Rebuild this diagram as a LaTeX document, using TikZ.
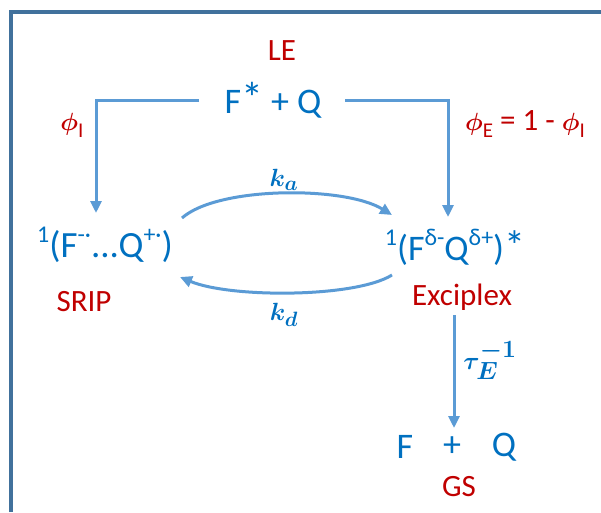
\documentclass[tikz,border=0pt]{standalone}
\usepackage{fontspec}
\setmainfont{Carlito}
\usetikzlibrary{arrows.meta}
\definecolor{frameblue}{HTML}{41719C}
\definecolor{lineblue}{HTML}{5B9BD5}
\definecolor{txtblue}{HTML}{0070C0}
\definecolor{txtred}{HTML}{C00000}
\newcommand{\chsup}[1]{\raisebox{0.42em}{\fontsize{24}{24}\selectfont #1}}
\newcommand{\lsub}[1]{\raisebox{-0.22em}{\fontsize{21}{21}\selectfont #1}}
\begin{document}
\begin{tikzpicture}[x=1pt,y=-1pt,
  chem/.style={text=txtblue, font=\fontsize{36}{42}\selectfont, inner sep=0pt},
  lab/.style={text=txtred, font=\fontsize{31}{36}\selectfont\boldmath, inner sep=0pt},
  rate/.style={text=txtblue, font=\fontsize{31}{36}\selectfont\boldmath, inner sep=0pt},
  conn/.style={draw=lineblue, line width=3pt, -{Triangle[length=12pt,width=11pt]}},
  plainline/.style={draw=lineblue, line width=3pt}]
\useasboundingbox (0,0) rectangle (601,512);
\draw[frameblue, line width=3.5pt] (11,512) -- (11,12) -- (601,12);

% texts
\node[lab]  (le)    at (282,51)  {LE};
\node[chem] (fq)    at (273,100) {F{\fontsize{44}{44}\selectfont*} + Q};
\node[lab]  (phiI)  at (72,125)  {$\phi$\lsub{I}};
\node[lab]  (phiE)  at (525,124) {$\phi$\lsub{E} = 1 - $\phi$\lsub{I}};
\node[chem, font=\fontsize{37}{42}\selectfont] (srip)  at (105,245) {\chsup{1}(F\chsup{-·}...Q\chsup{+·})};
\node[lab]  (sripl) at (84,302)  {SRIP};
\node[chem] (exc)   at (455,247) {\chsup{1}(F\chsup{δ-}Q\chsup{δ+}){\fontsize{42}{42}\selectfont*}};
\node[lab]  (excl)  at (462,297) {Exciplex};
\node[rate] (ka)    at (284,180) {$k_a$};
\node[rate] (kd)    at (284,315) {$k_d$};
\node[rate, font=\fontsize{34}{40}\selectfont\boldmath] (tau) at (490,360) {$\tau_E^{-1}$};
\node[chem] (gsF)   at (405,447) {F};
\node[chem] (gsP)   at (452,447) {+};
\node[chem] (gsQ)   at (504,447) {Q};
\node[lab]  (gs)    at (459,487) {GS};

% connector end points
\coordinate (l0) at (199,100);
\coordinate (l1) at (96,213);
\coordinate (r0) at (345,100);
\coordinate (r1) at (448,217);
\coordinate (ua) at (182,218);
\coordinate (ub) at (392,215);
\coordinate (la) at (392,275);
\coordinate (lb) at (180,277);
\coordinate (va) at (454,315);
\coordinate (vb) at (454,428);

\draw[conn] (l0) -| (l1);
\draw[conn] (r0) -| (r1);
\draw[conn] (ua) .. controls (218,186) and (345,186) .. (ub);
\draw[conn] (la) .. controls (355,298) and (230,298) .. (lb);
\draw[conn] (va) -- (vb);
\end{tikzpicture}
\end{document}
